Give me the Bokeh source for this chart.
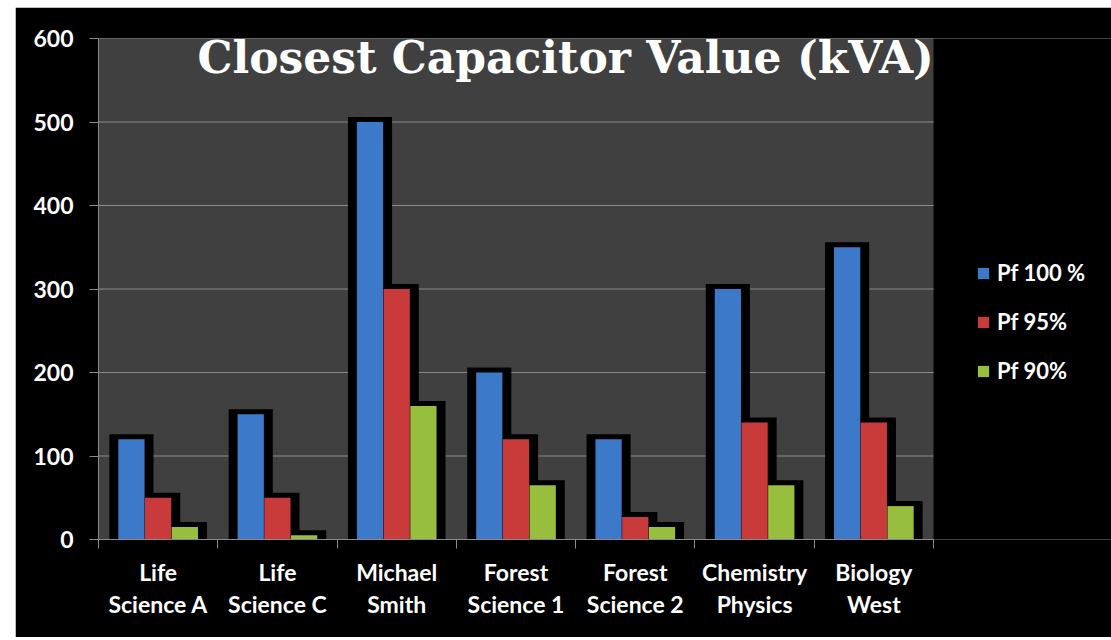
import numpy as np
from bokeh.plotting import figure
from bokeh.models import ColumnDataSource, Range1d, FixedTicker, Legend, LegendItem, Label, Spacer
from bokeh.layouts import row, column
from bokeh.embed import file_html
from bokeh.resources import INLINE

categories = ["Life\nScience A", "Life\nScience C", "Michael\nSmith", "Forest\nScience 1",
              "Forest\nScience 2", "Chemistry\nPhysics", "Biology\nWest"]
series_names = ["Pf 100 %", "Pf 95%", "Pf 90%"]
pf100 = [120, 150, 500, 200, 120, 300, 350]
pf95 = [50, 50, 300, 120, 27, 140, 140]
pf90 = [15, 5, 160, 65, 15, 65, 40]
y_ticks = [0, 100, 200, 300, 400, 500, 600]

colors = ["#3C7AC9", "#C93B3B", "#97BE3C"]
offsets = [-0.224, 0.0, 0.224]
bar_w = 0.22
glow_w = 0.37
glow_top = 6

n = len(categories)
idx = np.arange(n) + 0.5

# layout geometry (pixels)
fig_w, fig_h = 1096, 630
left_b, top_b, bottom_b = 83, 31, 98
plot_px = 835                      # width of the grey plot area
frame_px = fig_w - left_b          # frame spans to the right edge (legend lives inside)
x_end = n * frame_px / plot_px

p = figure(width=fig_w, height=fig_h, output_backend="svg", toolbar_location=None,
           x_range=Range1d(0, x_end), y_range=Range1d(0, 600),
           background_fill_color="#000000", border_fill_color="#000000",
           outline_line_color=None,
           min_border_left=left_b, min_border_right=0, min_border_top=top_b,
           min_border_bottom=bottom_b)

# grey plot area
p.quad(left=0, right=n, bottom=y_ticks[0], top=y_ticks[-1], fill_color="#404040", line_color=None)
# horizontal gridlines
p.segment(x0=[0] * len(y_ticks), x1=[n] * len(y_ticks), y0=y_ticks, y1=y_ticks,
          line_color="#8a8a8a", line_width=1)

series = [pf100, pf95, pf90]
for vals, off in zip(series, offsets):
    src = ColumnDataSource(dict(x=idx + off, top=np.array(vals) + glow_top))
    p.vbar(x="x", top="top", bottom=0, width=glow_w, source=src,
           fill_color="#000000", line_color=None)

items = []
for vals, off, col, name in zip(series, offsets, colors, series_names):
    src = ColumnDataSource(dict(x=idx + off, top=vals))
    r = p.vbar(x="x", top="top", bottom=0, width=bar_w, source=src,
               fill_color=col, line_color=None)
    items.append(LegendItem(label=name, renderers=[r]))

p.xgrid.grid_line_color = None
p.ygrid.grid_line_color = None

# y axis
p.yaxis.ticker = FixedTicker(ticks=y_ticks)
p.yaxis.axis_line_color = "#8a8a8a"
p.yaxis.major_tick_line_color = "#8a8a8a"
p.yaxis.major_tick_out = 9
p.yaxis.major_tick_in = 0
p.yaxis.minor_tick_line_color = None
p.yaxis.major_label_text_color = "#FFFFFF"
p.yaxis.major_label_text_font = "Lato"
p.yaxis.major_label_text_font_style = "bold"
p.yaxis.major_label_text_font_size = "23px"
p.yaxis.major_label_standoff = 16

# x axis
p.xaxis.ticker = FixedTicker(ticks=list(idx), minor_ticks=list(range(n + 1)))
p.xaxis.major_label_overrides = {float(v): c for v, c in zip(idx, categories)}
p.xaxis.bounds = (0, n)
p.xaxis.axis_line_color = "#8a8a8a"
p.xaxis.major_tick_line_color = None
p.xaxis.minor_tick_line_color = "#8a8a8a"
p.xaxis.minor_tick_out = 9
p.xaxis.minor_tick_in = 0
p.xaxis.major_label_text_color = "#FFFFFF"
p.xaxis.major_label_text_font = "Lato"
p.xaxis.major_label_text_font_style = "bold"
p.xaxis.major_label_text_font_size = "23px"
p.xaxis.major_label_text_line_height = 1.15
p.xaxis.major_label_standoff = 9

legend = Legend(items=items, location=(878, 155), orientation="vertical",
                background_fill_color="#000000", background_fill_alpha=1,
                border_line_color=None, label_text_color="#FFFFFF",
                label_text_font="Lato", label_text_font_style="bold",
                label_text_font_size="22px", glyph_width=14, glyph_height=14,
                label_height=20, spacing=22, margin=0, padding=0, label_standoff=7)
p.add_layout(legend, "center")

title = Label(x=0.83, y=577, text="Closest Capacitor Value (kVA)",
              text_font="DejaVu Serif", text_font_style="bold", text_font_size="44px",
              text_color="#FFFFFF", text_baseline="alphabetic", text_align="left")
p.add_layout(title)

layout = column(Spacer(width=1111, height=7), row(Spacer(width=15, height=fig_h), p))
open("out.html", "w").write(file_html(layout, INLINE))
